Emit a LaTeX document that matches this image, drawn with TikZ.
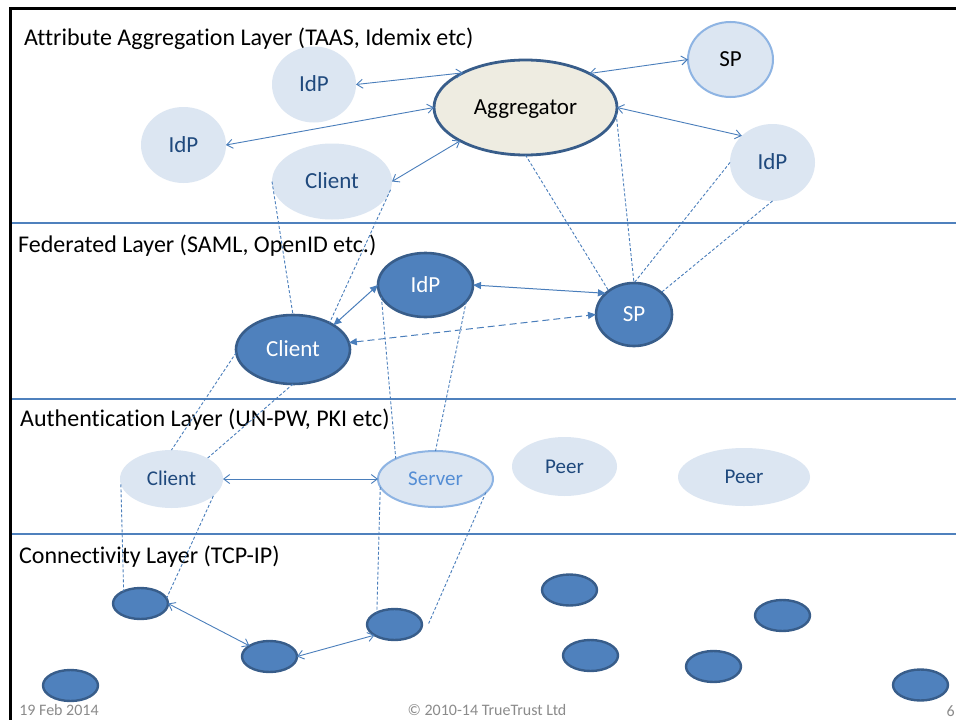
\documentclass[tikz,border=0pt]{standalone}
\usepackage{fontspec}
\setmainfont[Ligatures={NoCommon}]{Carlito}
\usetikzlibrary{shapes.geometric,arrows.meta}
\definecolor{lite}{HTML}{DCE6F2}
\definecolor{dkblue}{HTML}{1F497D}
\definecolor{midblue}{HTML}{4F81BD}
\definecolor{edgeblue}{HTML}{385D8A}
\definecolor{lineblue}{HTML}{4A7EBB}
\definecolor{skyblue}{HTML}{8EB4E3}
\definecolor{srvtext}{HTML}{558ED5}
\definecolor{beige}{HTML}{EEECE1}
\definecolor{foot}{HTML}{8B8B8B}
\tikzset{
  ell/.style={ellipse, inner sep=0pt, outer sep=0pt, text height=14.8pt, text depth=0pt},
  litenode/.style={ell, fill=lite, text=dkblue, font=\fontsize{23}{23}\selectfont},
  authnode/.style={ell, fill=lite, text=dkblue, font=\fontsize{21}{21}\selectfont, text height=13.5pt},
  fednode/.style={ell, fill=midblue, draw=edgeblue, line width=2.6pt, text=white, font=\fontsize{23}{23}\selectfont},
  connode/.style={ell, fill=midblue, draw=edgeblue, line width=2.4pt, minimum width=55pt, minimum height=31pt},
  layertitle/.style={anchor=base west, inner sep=0pt, font=\fontsize{24}{24}\selectfont},
  layerline/.style={draw=midblue, line width=1.2pt},
  openarrow/.style={draw=lineblue, line width=0.9pt, {Straight Barb[length=6pt,width=9pt]}-{Straight Barb[length=6pt,width=9pt]}},
  fillarrow/.style={draw=lineblue, line width=1pt, {Triangle[length=8pt,width=7pt]}-{Triangle[length=8pt,width=7pt]}},
  dashlink/.style={draw=lineblue, line width=0.9pt, dash pattern=on 3pt off 2pt},
  footer/.style={anchor=base, inner sep=0pt, text=foot, font=\fontsize{16}{16}\selectfont}
}
\begin{document}
\begin{tikzpicture}[x=1pt,y=-1pt]
\useasboundingbox (0,0) rectangle (956,720);
\clip (0,0) rectangle (956,720);
\fill[white] (0,0) rectangle (956,720);

% frame
\draw[black, line width=2.8pt] (10.5,720) -- (10.5,8.5) -- (956,8.5);
% layer separators
\draw[layerline] (12,223) -- (956,223);
\draw[layerline] (12,399) -- (956,399);
\draw[layerline] (12,534) -- (956,534);

% titles
\node[layertitle] (t1) at (24,45) {Attribute Aggregation Layer (TAAS, Idemix etc)};
\node[layertitle] (t2) at (18,252) {Federated Layer (SAML, OpenID etc.)};
\node[layertitle] (t3) at (20,426) {Authentication Layer (UN-PW, PKI etc)};
\node[layertitle] (t4) at (19,563) {Connectivity Layer (TCP-IP)};

% attribute layer nodes
\node[litenode, minimum width=84pt, minimum height=76pt] (aidp1) at (314,84.5) {IdP};
\node[litenode, minimum width=85pt, minimum height=76pt] (aidp2) at (183.5,145) {IdP};
\node[litenode, minimum width=120pt, minimum height=76pt] (acli) at (332,181.5) {Client};
\node[ell, fill=beige, draw=edgeblue, line width=2.8pt, minimum width=183pt, minimum height=95pt, font=\fontsize{23}{23}\selectfont] (agg) at (525.5,107.5) {Aggregator};
\node[ell, fill=lite, draw=skyblue, line width=2pt, minimum width=85pt, minimum height=75pt, font=\fontsize{23}{23}\selectfont] (asp) at (730.5,59.5) {SP};
\node[litenode, minimum width=85pt, minimum height=77pt] (aidp3) at (772.5,162.5) {IdP};

% federated layer nodes
\node[fednode, minimum width=95pt, minimum height=64pt] (fidp) at (425.5,285) {IdP};
\node[fednode, minimum width=114pt, minimum height=69pt] (fcli) at (293,349.5) {Client};
\node[fednode, minimum width=76pt, minimum height=63pt] (fsp) at (634,314.5) {SP};

% authentication layer nodes
\node[authnode, minimum width=103pt, minimum height=58pt] (ucli) at (171.5,479) {Client};
\node[ell, fill=lite, draw=skyblue, line width=2pt, text=srvtext, minimum width=115pt, minimum height=56pt, font=\fontsize{21}{21}\selectfont, text height=13.5pt] (usrv) at (435.5,479) {Server};
\node[authnode, minimum width=105pt, minimum height=59pt] (upeer1) at (564.5,466.5) {Peer};
\node[authnode, minimum width=132pt, minimum height=58pt] (upeer2) at (744,477) {Peer};

% connectivity layer nodes
\node[connode] (c1) at (140.5,603.5) {};
\node[connode] (c2) at (269.5,656.5) {};
\node[connode] (c3) at (394.5,624.5) {};
\node[connode] (c4) at (70.5,685.5) {};
\node[connode] (c5) at (569.5,590) {};
\node[connode] (c6) at (590.5,655.5) {};
\node[connode] (c7) at (782.5,615.5) {};
\node[connode] (c8) at (713.5,666.5) {};
\node[connode] (c9) at (920.5,685) {};

% attribute layer arrows
\draw[openarrow] (aidp1.east) -- (agg.151);
\draw[openarrow] (aidp2.east) -- (agg.180);
\draw[openarrow] (acli.east) -- (agg.207);
\draw[openarrow] (agg.28) -- (asp.west);
\draw[openarrow] (agg.east) -- (aidp3.139);

% attribute -> federated dashed links
\draw[dashlink] (acli.west) -- (fcli.north);
\draw[dashlink] (acli.-8) -- (fcli.36);
\draw[dashlink] (agg.south) -- (fsp.137);
\draw[dashlink] (agg.-4) -- (fsp.north);
\draw[dashlink] (aidp3.west) -- (fsp.north);
\draw[dashlink] (aidp3.south) -- (fsp.39);

% federated layer arrows
\draw[fillarrow] (fcli.31) -- (fidp.west);
\draw[fillarrow] (fidp.east) -- (fsp.143);
\draw[fillarrow, dash pattern=on 7pt off 4pt] (fcli.7) -- (fsp.west);

% federated -> authentication dashed links
\draw[dashlink] (fcli.183) -- (ucli.north);
\draw[dashlink] (fcli.south) -- (ucli.30);
\draw[dashlink] (fidp.195) -- (usrv.153);
\draw[dashlink] (fidp.-22) -- (usrv.north);

% authentication layer arrow
\draw[openarrow] (ucli.east) -- (usrv.west);

% authentication -> connectivity dashed links
\draw[dashlink] (ucli.186) -- (c1.144);
\draw[dashlink] (ucli.-22) -- (c1.11);
\draw[dashlink] (usrv.188) -- (c3.146);
\coordinate (c3r) at (428,625);
\draw[dashlink] (usrv.-15) -- (c3r);

% connectivity arrows
\draw[openarrow] (c1.east) -- (c2.152);
\draw[openarrow] (c2.east) -- (c3.208);

% footer
\node[footer] (date) at (59,715) {19 Feb 2014};
\node[footer] (copy) at (487,715) {© 2010-14 TrueTrust Ltd};
\node[footer, anchor=base east] (page) at (955,716) {6};
\end{tikzpicture}
\end{document}
